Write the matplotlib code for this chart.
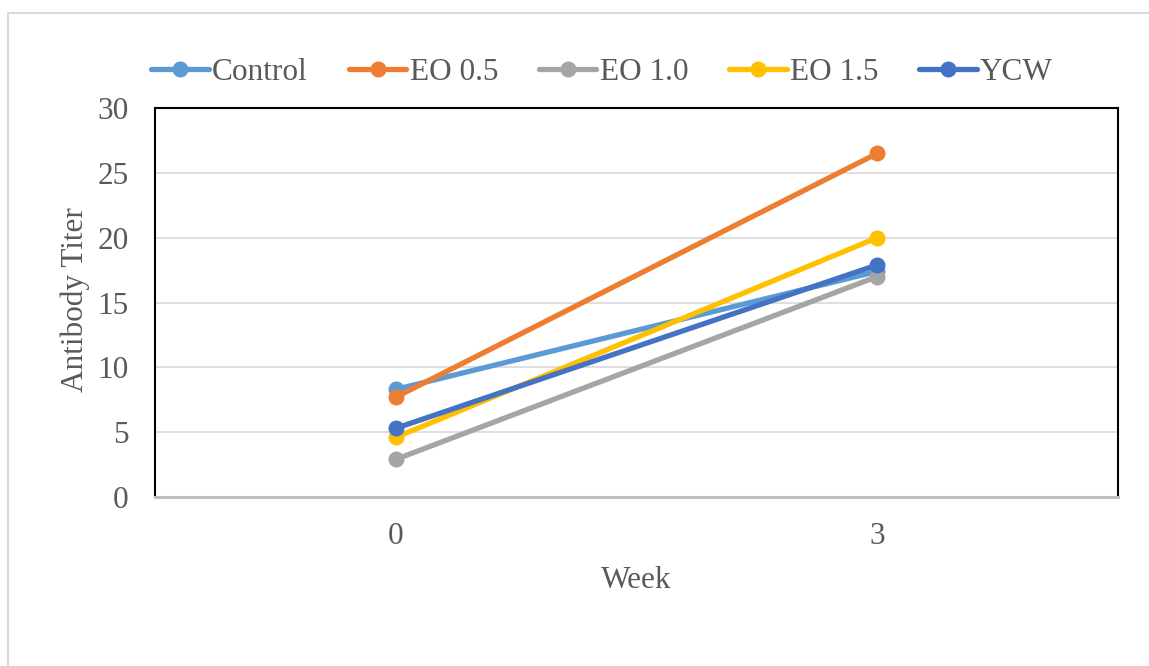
import numpy as np
import matplotlib.pyplot as plt
from matplotlib.patches import Rectangle

# Antibody titer by treatment, weeks 0 and 3
weeks = ['0', '3']
control = [8.3, 17.4]
eo_05 = [7.7, 26.5]
eo_10 = [2.9, 17.0]
eo_15 = [4.6, 20.0]
ycw = [5.3, 17.9]

series = [
    ('Control', control, '#5B9BD5'),
    ('EO 0.5', eo_05, '#ED7D31'),
    ('EO 1.0', eo_10, '#A5A5A5'),
    ('EO 1.5', eo_15, '#FFC000'),
    ('YCW', ycw, '#4472C4'),
]

plt.rcParams['font.family'] = ['Liberation Serif', 'DejaVu Serif']
fs = 22.5
text_color = '#595959'

fig = plt.figure(figsize=(11.49, 6.66), dpi=100)

# light chart-area frame
fig.patches.append(Rectangle((8 / 1149, -0.05), 1.2, 1 - 13 / 666 + 0.05,
                             transform=fig.transFigure, fill=False,
                             edgecolor='#d9d9d9', linewidth=1.5))

ax = fig.add_axes([155 / 1149, 1 - 497 / 666, 963 / 1149, 389 / 666])

x = np.arange(len(weeks))
for name, vals, color in series:
    ax.plot(x, vals, color=color, linewidth=3.8, marker='o',
            markersize=10.5, label=name, solid_capstyle='round')

ax.set_xlim(-0.5, len(weeks) - 0.5)
ax.set_ylim(0, 30)
ax.set_yticks(np.arange(0, 31, 5))
ax.set_xticks(x)
ax.set_xticklabels(weeks)
ax.grid(axis='y', color='#d9d9d9', linewidth=1.2)
ax.set_axisbelow(True)

ax.tick_params(axis='both', length=0, labelsize=fs, labelcolor=text_color)
ax.tick_params(axis='y', pad=19)
ax.tick_params(axis='x', pad=18)

for side in ['left', 'top', 'right']:
    ax.spines[side].set_color('black')
    ax.spines[side].set_linewidth(1.5)
ax.spines['bottom'].set_color('#bfbfbf')
ax.spines['bottom'].set_linewidth(2.2)

fig.text(75 / 1149, 1 - 300 / 666, 'Antibody Titer', rotation=90,
         ha='center', va='center', fontsize=fs, color=text_color)
fig.text(636 / 1149, 1 - 580 / 666, 'Week', ha='center', va='center',
         fontsize=fs, color=text_color)

leg = fig.legend(loc='center', bbox_to_anchor=(602 / 1149, 1 - 72 / 666),
                 ncol=5, frameon=False, fontsize=fs, handlelength=1.85,
                 handletextpad=0.1, columnspacing=1.3, borderaxespad=0)
for t in leg.get_texts():
    t.set_color(text_color)

fig.savefig('out.png', dpi=100)
